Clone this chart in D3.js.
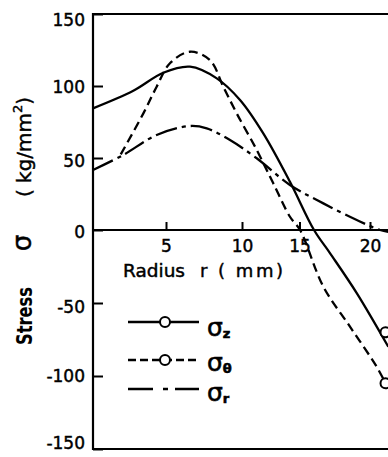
<!DOCTYPE html>
<html><head><meta charset="utf-8">
<script src="https://cdn.jsdelivr.net/npm/d3@7"></script>
<style>body{margin:0;background:#fff}svg{display:block}</style>
</head><body><svg id="c" width="388" height="457"></svg>
<script>
// ---- data ----
const xTicks = [5, 10, 15, 20];
const yTicks = [-150, -100, -50, 0, 50, 100, 150];

const radiusZ = [0, 2.76, 4.81, 6.58, 8.34, 9.87, 11.85, 14.17, 16.03, 17.16, 19.06, 21.3];
const sigmaZ  = [84.5, 96.7, 109.2, 113.4, 105.3, 90.3, 67.1, 33.5, 0, -15.8, -43.2, -80];

const radiusT = [1.9, 3.45, 4.36, 5.26, 6.58, 7.89, 8.77, 9.65, 11.28, 12.72, 14.17, 15.04, 16.69, 18.58, 20.47, 21.1];
const sigmaT  = [52.5, 81, 99.5, 115.8, 123.8, 118, 99.5, 81, 55.6, 32.4, 9.2, 0, -38.8, -66.2, -93.6, -105];

const radiusR = [0, 2.07, 4.36, 6.58, 7.68, 9.21, 11.28, 14.17, 16.69, 19.06, 20.71, 21.4];
const sigmaR  = [41.7, 52.1, 66, 72.2, 70.6, 62.5, 49.8, 31.3, 18.5, 6.9, 0, -1.5];

const markerR = [21.1, 21.1];
const markerS = [-70, -105];

const legendSubs = ["z", "θ", "r"];

// ---- chart ----
const svg = d3.select("#c");
const FONT = "'DejaVu Sans', sans-serif";
const W = 388;
const TS = 0.45; // slight text stroke to mimic the heavy lettering

const x = d3.scaleLinear().domain([0, 5, 10, 15, 20]).range([93, 166, 242, 299.5, 370]);
const y = d3.scaleLinear().domain([-150, 0, 150]).range([449, 230, 14]);

// frame
svg.append("path")
  .attr("d", `M${W + 5},${y(150)}H${x(0)}V${y(-150)}H${W + 5}`)
  .attr("fill", "none").attr("stroke", "#000").attr("stroke-width", 2.2);
// zero line
svg.append("line").attr("x1", x(0)).attr("x2", W + 5).attr("y1", y(0)).attr("y2", y(0))
  .attr("stroke", "#000").attr("stroke-width", 2.2);

// y axis
const yOff = {150: 6, "-150": -6, 100: 1, 50: 3, 0: 2, "-50": 4, "-100": 0};
const gy = svg.append("g").attr("transform", `translate(${x(0)},0)`)
  .call(d3.axisLeft(y).tickValues(yTicks).tickSize(-10).tickPadding(8).tickFormat(d => String(d)));
gy.attr("font-family", FONT).attr("font-size", 17);
gy.select(".domain").remove();
gy.selectAll(".tick line").attr("stroke", "#000").attr("stroke-width", 2);
gy.selectAll(".tick text").attr("fill", "#000").attr("stroke", "#000").attr("stroke-width", TS)
  .attr("dy", d => (0.32 * 17 + yOff[d]) + "px");

// x axis
const gx = svg.append("g").attr("transform", `translate(0,${y(0)})`)
  .call(d3.axisBottom(x).tickValues(xTicks).tickSize(-8).tickPadding(10));
gx.attr("font-family", FONT).attr("font-size", 17);
gx.select(".domain").remove();
gx.selectAll(".tick line").attr("stroke", "#000").attr("stroke-width", 2);
gx.selectAll(".tick text").attr("fill", "#000").attr("stroke", "#000").attr("stroke-width", TS);

// x label
svg.append("text").attr("x", 123).attr("y", 277).attr("font-family", FONT).attr("font-size", 18)
  .attr("stroke", "#000").attr("stroke-width", TS)
  .attr("textLength", 62).attr("lengthAdjust", "spacingAndGlyphs").text("Radius");
svg.append("text").attr("x", 200).attr("y", 277).attr("font-family", FONT).attr("font-size", 18)
  .attr("stroke", "#000").attr("stroke-width", TS)
  .attr("letter-spacing", 2.5).text("r ( mm)");

// y label
svg.append("text").attr("transform", "translate(32,316) rotate(-90)").attr("text-anchor", "middle")
  .attr("font-family", "'DejaVu Sans Condensed','DejaVu Sans', sans-serif").attr("font-weight", "bold").attr("font-size", 21)
  .attr("textLength", 58).attr("lengthAdjust", "spacingAndGlyphs").text("Stress");
svg.append("text").attr("transform", "translate(31,243) rotate(-90)").attr("text-anchor", "middle")
  .attr("font-family", FONT).attr("font-size", 26).attr("stroke", "#000").attr("stroke-width", TS).text("σ");
const yl = svg.append("text").attr("transform", "translate(31,147) rotate(-90)").attr("text-anchor", "middle")
  .attr("font-family", FONT).attr("font-size", 20).attr("stroke", "#000").attr("stroke-width", TS);
yl.append("tspan").text("( kg/mm");
yl.append("tspan").attr("font-size", 13).attr("dy", -9).text("2");
yl.append("tspan").attr("dy", 9).text(")");

// curves
const line = d3.line().x(d => x(d[0])).y(d => y(d[1])).curve(d3.curveCatmullRom.alpha(0.5));
const series = [
  {r: radiusZ, s: sigmaZ, dash: null},
  {r: radiusT, s: sigmaT, dash: "9,5"},
  {r: radiusR, s: sigmaR, dash: "22,5,4,5"}
];
series.forEach(se => {
  svg.append("path").datum(se.r.map((r, i) => [r, se.s[i]]))
    .attr("d", line).attr("fill", "none").attr("stroke", "#000").attr("stroke-width", 2.3)
    .attr("stroke-dasharray", se.dash);
});
svg.selectAll("circle.m").data(markerR.map((r, i) => [r, markerS[i]])).enter().append("circle")
  .attr("class", "m").attr("cx", d => x(d[0])).attr("cy", d => y(d[1])).attr("r", 5)
  .attr("fill", "#fff").attr("stroke", "#000").attr("stroke-width", 2);

// legend
const legY = [322, 360, 389];
const legDash = [null, "8,4", "25,10,5,7"];
const legBase = [336, 371, 401];
legendSubs.forEach((sub, i) => {
  svg.append("line").attr("x1", 128).attr("x2", 199).attr("y1", legY[i]).attr("y2", legY[i])
    .attr("stroke", "#000").attr("stroke-width", 2.3).attr("stroke-dasharray", legDash[i]);
  if (i < 2) svg.append("circle").attr("cx", 165).attr("cy", legY[i]).attr("r", 5)
    .attr("fill", "#fff").attr("stroke", "#000").attr("stroke-width", 2);
  const t = svg.append("text").attr("x", 207).attr("y", legBase[i]).attr("font-family", FONT)
    .attr("stroke", "#000").attr("stroke-width", 0.6);
  t.append("tspan").attr("font-size", 25).text("σ");
  t.append("tspan").attr("font-size", 13).attr("font-weight", "bold").attr("dy", 2).text(sub);
});
</script></body></html>
